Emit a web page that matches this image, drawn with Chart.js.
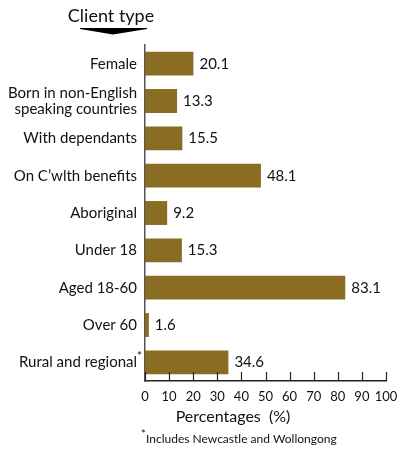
<!DOCTYPE html>
<html>
<head>
<meta charset="utf-8">
<style>
  html, body { margin: 0; padding: 0; background: #fff; }
  #chart { display: block; }
</style>
<script src="https://cdn.jsdelivr.net/npm/chart.js@4"></script>
</head>
<body>
<canvas id="chart" width="398" height="449"></canvas>
<script>
  // data
  const categories = [
    "Female",
    ["Born in non-English", "speaking countries"],
    "With dependants",
    "On C\u2019wlth benefits",
    "Aboriginal",
    "Under 18",
    "Aged 18-60",
    "Over 60",
    "Rural and regional",
  ];
  const percentages = [20.1, 13.3, 15.5, 48.1, 9.2, 15.3, 83.1, 1.6, 34.6];
  const valueLabels = ["20.1", "13.3", "15.5", "48.1", "9.2", "15.3", "83.1", "1.6", "34.6"];
  const xTicks = [0, 10, 20, 30, 40, 50, 60, 70, 80, 90, 100];

  const FONT = "Lato, 'Open Sans', sans-serif";
  const barColor = "#8a6d22";

  const extras = {
    id: "extras",
    afterDraw(chart) {
      const ctx = chart.ctx;
      const x = chart.scales.x;
      const y = chart.scales.y;
      const area = chart.chartArea;
      ctx.save();

      // tick marks pointing up from the x axis
      ctx.strokeStyle = "#222";
      ctx.lineWidth = 1.2;
      xTicks.forEach(function (t) {
        const px = Math.round(x.getPixelForValue(t)) + 0.5;
        ctx.beginPath();
        ctx.moveTo(px, area.bottom);
        ctx.lineTo(px, area.bottom - 9);
        ctx.stroke();
      });

      // values next to the bars
      ctx.fillStyle = "#111";
      ctx.font = "15px " + FONT;
      ctx.textBaseline = "middle";
      ctx.textAlign = "left";
      const meta = chart.getDatasetMeta(0);
      meta.data.forEach(function (bar, i) {
        ctx.fillText(valueLabels[i], bar.x + 6, bar.y);
      });

      // asterisk after "Rural and regional"
      const lastY = y.getPixelForValue(categories.length - 1);
      ctx.font = "12px " + FONT;
      ctx.fillText("*", area.left - 8, lastY - 6);

      // title with its arrow
      ctx.font = "18px " + FONT;
      ctx.textAlign = "center";
      ctx.textBaseline = "alphabetic";
      ctx.fillText("Client type", 111, 22);
      ctx.fillStyle = "#000";
      ctx.beginPath();
      ctx.moveTo(80, 28);
      ctx.lineTo(147, 28);
      ctx.lineTo(147, 29);
      ctx.lineTo(113, 34.5);
      ctx.lineTo(80, 29);
      ctx.closePath();
      ctx.fill();

      // x axis title
      ctx.fillStyle = "#111";
      ctx.font = "16px " + FONT;
      ctx.textBaseline = "middle";
      ctx.fillText("Percentages  (%)", 233, 417);

      // footnote
      ctx.textAlign = "left";
      ctx.font = "11px " + FONT;
      ctx.fillText("*", 141, 434);
      ctx.font = "12px " + FONT;
      ctx.fillText("Includes Newcastle and Wollongong", 146, 439);

      ctx.restore();
    },
  };

  new Chart(document.getElementById("chart"), {
    type: "bar",
    data: {
      labels: categories,
      datasets: [
        {
          data: percentages,
          backgroundColor: barColor,
          borderWidth: 0,
          barPercentage: 0.8,
          categoryPercentage: 0.8,
        },
      ],
    },
    options: {
      indexAxis: "y",
      responsive: false,
      devicePixelRatio: 1,
      animation: false,
      layout: { padding: { top: 45, right: 0, left: 0, bottom: 0 } },
      plugins: {
        legend: { display: false },
        tooltip: { enabled: false },
      },
      scales: {
        x: {
          min: 0,
          max: 100,
          afterBuildTicks: function (scale) {
            scale.ticks = xTicks.map(function (v) { return { value: v }; });
          },
          ticks: {
            color: "#111",
            font: { family: FONT, size: 13 },
            padding: 8,
            maxRotation: 0,
            autoSkip: false,
          },
          grid: { display: false, drawTicks: false },
          border: { display: true, color: "#222", width: 1.5 },
          afterFit: function (scale) {
            scale.height = 68;
            scale.paddingRight = 12;
            scale.paddingLeft = 0;
          },
        },
        y: {
          ticks: {
            color: "#111",
            font: { family: FONT, size: 15, lineHeight: 1.05 },
            padding: 8,
            autoSkip: false,
          },
          grid: { display: false, drawTicks: false },
          border: { display: true, color: "#555", width: 1.5 },
          afterFit: function (scale) { scale.width = 145; },
        },
      },
    },
    plugins: [extras],
  });
</script>
</body>
</html>
